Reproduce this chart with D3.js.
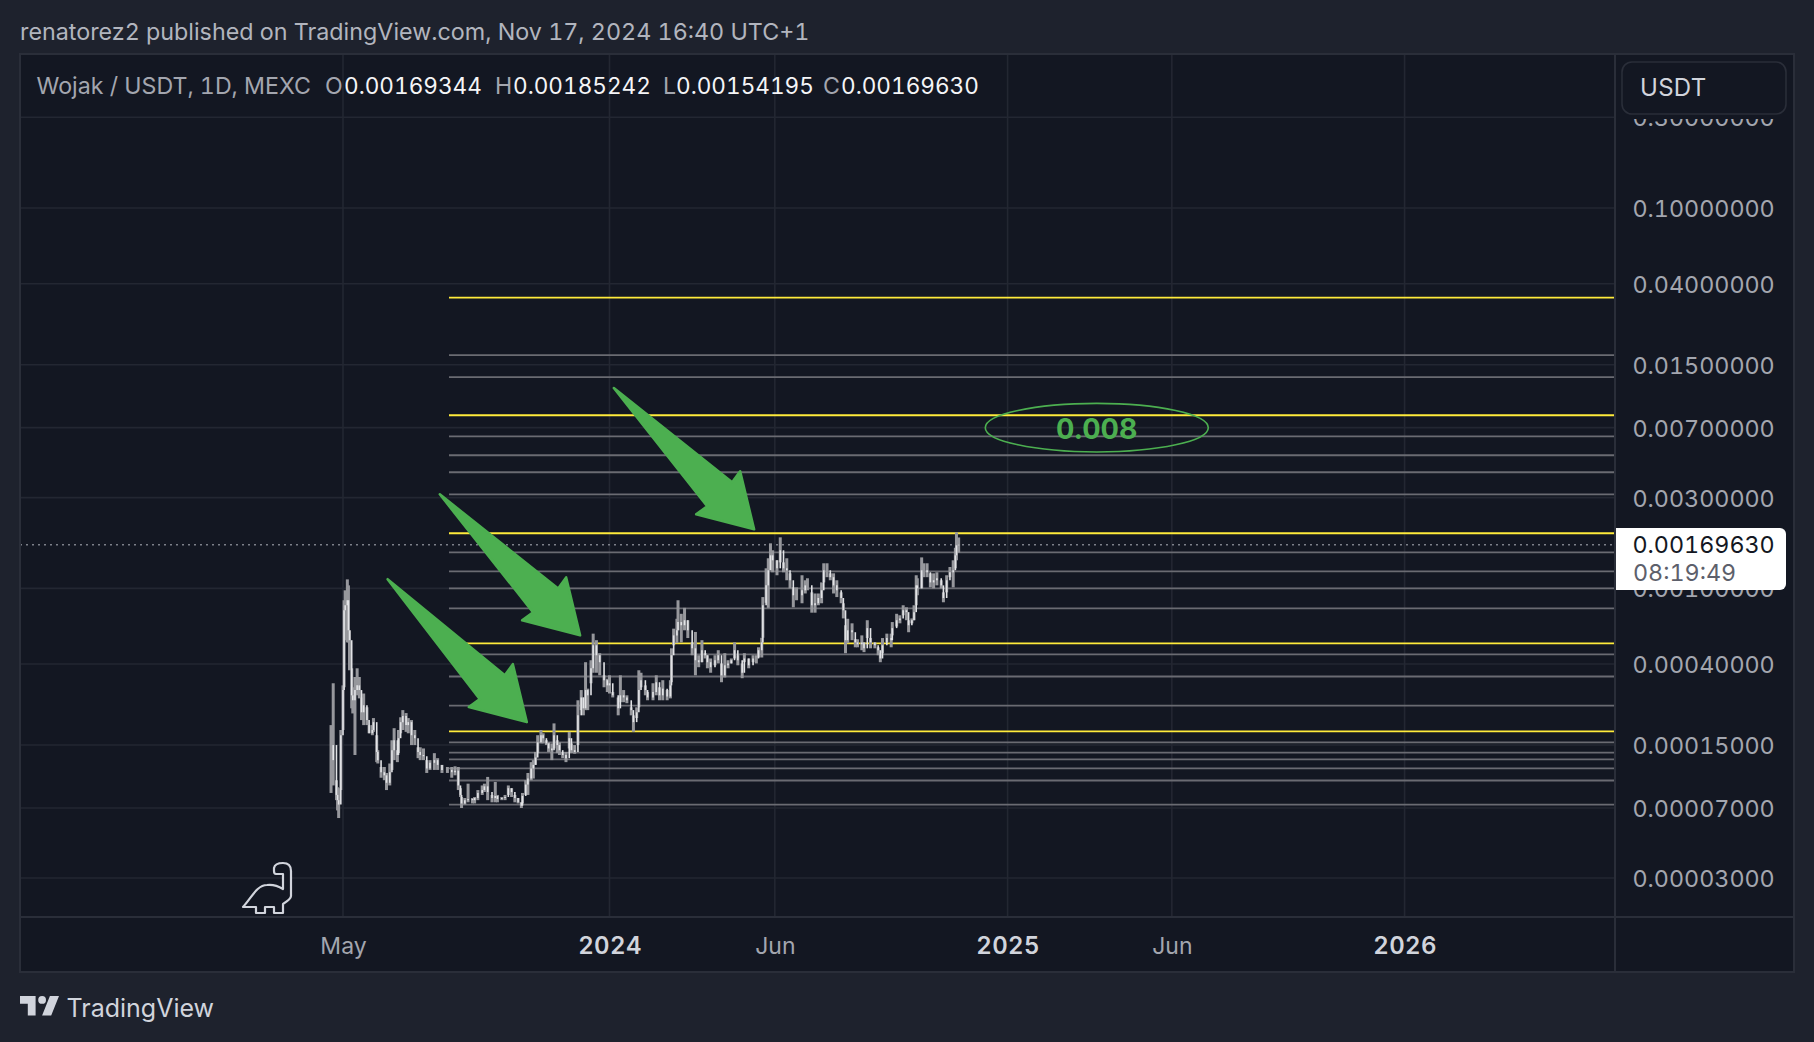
<!DOCTYPE html>
<html><head><meta charset="utf-8">
<script src="https://cdn.jsdelivr.net/npm/d3@7/dist/d3.min.js"></script>
<style>html,body{margin:0;padding:0;background:#1e222d;overflow:hidden}svg{display:block}text{font-family:Inter,"Noto Sans",sans-serif;font-variant-numeric:tabular-nums}</style>
</head><body><svg id="c" width="1814" height="1042"></svg>
<script>
// All prices below are in millionths of a USDT (1000 = 0.001)
const priceTicks = [0.3,0.1,0.04,0.015,0.007,0.003,0.001,0.0004,0.00015,0.00007,0.00003];
const timeTicks = ["2023-05-01","2024-01-01","2024-06-01","2025-01-01","2025-06-01","2026-01-01"];
const timeLabels = ["May","2024","Jun","2025","Jun","2026"];
const yellowLevels = [33800,8140,1950,514,177];
const greyLevels = [16840,12900,6300,5010,4080,3120,1547,1229,1000,785,450,344,242,155,137,126,113,97.7,73];
const barDays = [-11,-9,-6,-5,-4,-2,0,1,2,4,
5,6,8,9,11,13,15,17,19,22,
24,27,28,31,32,35,38,40,43,45,
47,50,51,53,55,58,60,63,66,69,
71,74,77,80,84,87,91,96,100,103,
106,108,109,112,115,119,121,124,128,130,
133,137,140,142,146,149,152,155,158,161,
164,165,168,170,173,175,177,179,182,184,
187,189,192,194,197,199,202,205,208,210,
213,216,219,221,223,225,228,230,233,236,
240,243,245,248,253,255,258,261,265,267,
270,272,274,278,280,285,288,291,294,298,
301,302,304,307,308,311,314,317,321,324,
327,330,333,335,338,342,345,348,351,354,
357,360,363,367,369,373,377,380,382,385,
386,389,391,393,395,399,402,405,408,411,
414,417,422,425,427,431,434,437,440,442,
445,448,451,454,458,460,462,464,468,471,
473,477,479,482,485,489,492,494,496,500,
504,505,509,512,515,518,520,523,525,527,
528,532,534,537,540,543,546,550,552,555,
558,561,563,564,566];
const highs = [191,317,98,90,89,180,309,866,977,1115,
1037,602,380,302,342,380,342,267,280,237,
191,191,208,169,141,115,115,107,120,159,
184,141,180,210,229,221,208,203,180,146,
146,144,125,125,136,128,118,115,115,116,
115,89,80,79,94,79,80,87,92,94,
102,82,96,82,80,82,92,89,82,79,
75,84,98,107,122,125,138,169,180,173,
159,155,153,195,159,155,138,138,176,153,
150,258,292,267,409,297,419,578,534,456,
349,335,349,285,267,349,292,274,237,215,
237,371,360,309,285,317,349,302,329,292,
329,484,614,692,866,735,790,680,520,590,
445,534,456,445,428,445,473,403,456,419,
428,520,445,403,456,428,445,445,490,550,
900,1275,1440,1725,1586,1405,1855,1370,1440,1200,
1012,1012,1172,1103,1130,953,940,940,1075,1355,
1355,1200,1200,1103,953,835,640,692,655,540,
540,566,520,680,548,520,490,456,548,578,
578,665,735,722,815,795,680,695,815,1172,
1130,1455,1355,1355,1200,1200,1215,1103,953,1172,
1295,1405,1635,1971,1852];
const lows = [84,92,77,68,62,87,180,302,534,520,
520,371,234,220,133,274,264,203,191,191,
173,169,176,122,120,101,98,87,92,111,
125,122,136,173,180,176,173,150,150,128,
125,125,107,111,111,111,107,107,101,104,
87,80,70,73,75,74,74,77,82,85,
77,75,75,75,77,77,82,80,75,74,
70,74,82,82,98,100,118,136,153,153,
150,138,125,144,136,133,128,122,144,136,
135,150,229,215,229,229,317,360,360,349,
302,285,280,267,215,252,252,249,215,176,
208,237,302,274,258,258,274,258,258,258,
264,321,502,515,602,520,602,548,445,349,
385,409,428,380,360,394,403,321,340,380,
403,428,394,337,409,380,409,403,433,433,
550,840,790,1245,1215,1172,1370,1215,1103,1000,
795,866,835,940,977,745,745,815,835,1075,
1145,1103,940,900,835,695,456,515,534,490,
490,473,462,548,484,484,445,409,456,520,
490,566,630,655,722,680,588,655,680,815,
920,1000,1145,1145,1012,1000,1037,1000,845,953,
1145,1012,1275,1405,1542];
const closes = [125,150,82,77,73,169,292,767,815,866,
602,534,274,258,292,309,292,223,243,203,
173,180,198,138,125,108,104,95,108,141,
159,133,163,198,213,191,198,169,163,138,
133,131,113,121,125,118,111,111,108,110,
92,82,74,77,78,77,79,84,87,91,
85,79,81,78,79,80,89,85,79,75,
72,81,93,100,113,118,129,155,169,163,
153,144,141,169,150,141,133,128,163,141,
138,215,267,234,292,274,380,502,445,409,
329,309,317,274,234,274,267,258,229,198,
223,292,329,292,267,285,321,274,297,270,
309,445,566,602,665,640,680,602,484,419,
409,473,445,409,385,419,445,349,394,403,
419,473,419,360,428,394,428,428,473,520,
815,1037,1245,1492,1405,1275,1586,1275,1245,1103,
920,920,977,1037,1037,815,835,890,977,1245,
1245,1145,1037,977,890,767,534,602,588,520,
508,520,484,618,520,502,473,428,502,548,
534,618,680,695,767,750,640,680,750,1037,
1000,1245,1245,1215,1075,1103,1130,1037,890,1103,
1215,1245,1492,1684,1696];
const arrowTails = [[41,1118],[89,3122],[249,11300]];
const arrowTips = [[169,198],[218,566],[378,2044]];
const noteText = "0.008";
const noteDay = 693, notePrice = 7000;
const lastPrice = 1696.3;

const W=1814,H=1042,L=20,T=54,R=1794,B=972,PX=1615,AX=917;
const BG="#131722",OUT="#1e222d",GRID="#232732",FRAME="#2a2e39",GREEN="#4caf50";
const svg=d3.select("#c");
const y=d3.scaleLog().domain([0.1,0.00003]).range([208,878]);
const x=d3.scaleUtc().domain([new Date(timeTicks[0]),new Date(timeTicks[5])]).range([343,1404.6]);
const t0=new Date(timeTicks[0]);
const X=d=>x(d3.utcDay.offset(t0,d));
const Y=u=>y(u*1e-6);

svg.append("rect").attr("width",W).attr("height",H).attr("fill",OUT);
svg.append("rect").attr("x",L).attr("y",T).attr("width",R-L).attr("height",B-T).attr("fill",BG);

// grid
svg.append("g").selectAll("line").data(priceTicks).join("line").attr("x1",L).attr("x2",PX).attr("y1",d=>y(d)).attr("y2",d=>y(d)).attr("stroke",GRID).attr("stroke-width",1.6);
svg.append("g").selectAll("line").data(timeTicks).join("line").attr("x1",d=>x(new Date(d))).attr("x2",d=>x(new Date(d))).attr("y1",T).attr("y2",AX).attr("stroke",GRID).attr("stroke-width",1.6);

// levels
svg.append("g").selectAll("line").data(greyLevels).join("line").attr("x1",449).attr("x2",PX).attr("y1",Y).attr("y2",Y).attr("stroke","#6a6b72").attr("stroke-width",1.8);
svg.append("g").selectAll("line").data(yellowLevels).join("line").attr("x1",449).attr("x2",PX).attr("y1",Y).attr("y2",Y).attr("stroke","#ffeb3b").attr("stroke-width",1.9);

// last price dotted
svg.append("line").attr("x1",L).attr("x2",PX).attr("y1",Y(lastPrice)).attr("y2",Y(lastPrice)).attr("stroke","#7d8089").attr("stroke-width",1.6).attr("stroke-dasharray","2 4");

// candles
const bars=barDays.map((d,i)=>({d,h:highs[i],l:lows[i],c:closes[i],o:i?closes[i-1]:closes[0]}));
svg.append("g").selectAll("line").data(bars).join("line")
 .attr("x1",b=>X(b.d)).attr("x2",b=>X(b.d)).attr("y1",b=>Y(b.h)).attr("y2",b=>Y(b.l)).attr("stroke","#96979c").attr("stroke-width",3);
svg.append("g").selectAll("line").data(bars).join("line")
 .attr("x1",b=>X(b.d)).attr("x2",b=>X(b.d)).attr("y1",b=>Y(b.o)).attr("y2",b=>Y(b.c)).attr("stroke","#e2e3e6").attr("stroke-width",1.6);

// arrows
arrowTips.forEach((tip,i)=>{
 const tx=X(tip[0]),ty=Y(tip[1]),ax=X(arrowTails[i][0]),ay=Y(arrowTails[i][1]);
 const pts=[[ax,ay],[tx-22,ty-47],[tx-14,ty-58],[tx,ty],[tx-58,ty-15],[tx-47,ty-23]];
 svg.append("path").attr("d",d3.line()(pts)+"Z").attr("fill",GREEN).attr("stroke",GREEN).attr("stroke-width",2.5).attr("stroke-linejoin","round");
});

// ellipse note
svg.append("ellipse").attr("cx",X(noteDay)).attr("cy",Y(notePrice)).attr("rx",111.5).attr("ry",24.3).attr("fill","none").attr("stroke",GREEN).attr("stroke-width",1.6);
svg.append("text").attr("x",X(noteDay)).attr("y",Y(notePrice)+11).attr("text-anchor","middle").attr("fill",GREEN).attr("font-size",28.5).attr("font-weight",700).text(noteText);

// price axis
svg.append("rect").attr("x",PX).attr("y",T).attr("width",R-PX).attr("height",B-T).attr("fill",BG);
const pa=svg.append("g").attr("transform",`translate(1632.5,1)`).call(d3.axisRight(y).tickValues(priceTicks).tickSize(0).tickPadding(0).tickFormat(d=>d.toFixed(8)));
pa.select(".domain").remove();
pa.selectAll("text").attr("fill","#a3a6af").attr("font-size",23.3).attr("font-family","Inter");

// header strip hides top tick
svg.append("rect").attr("x",PX+1).attr("y",T+1).attr("width",R-PX-2).attr("height",64).attr("fill",BG);
svg.append("rect").attr("x",1622).attr("y",62).attr("width",164).attr("height",52).attr("rx",10).attr("fill",BG).attr("stroke",FRAME).attr("stroke-width",1.6);
svg.append("text").attr("x",1640).attr("y",96).attr("fill","#d1d4dc").attr("font-size",24).attr("letter-spacing",0.3).text("USDT");

// last price box
svg.append("path").attr("d","M1615.5 528H1780a6 6 0 0 1 6 6V584a6 6 0 0 1 -6 6H1615.5Z").attr("fill","#fff");
svg.append("text").attr("x",1632.5).attr("y",553).attr("fill","#131722").attr("font-size",23.3).text((lastPrice*1e-6).toFixed(8));
svg.append("text").attr("x",1633).attr("y",581).attr("fill","#5d606b").attr("font-size",23.3).text("08:19:49");

// frame lines
const fr=svg.append("g").attr("stroke",FRAME).attr("stroke-width",2).attr("fill","none");
fr.append("rect").attr("x",L).attr("y",T).attr("width",R-L).attr("height",B-T);
fr.append("line").attr("x1",PX).attr("x2",PX).attr("y1",T).attr("y2",B);
fr.append("line").attr("x1",L).attr("x2",R).attr("y1",AX).attr("y2",AX);

// time axis
const ta=svg.append("g").attr("transform",`translate(0,${AX})`).call(d3.axisBottom(x).tickValues(timeTicks.map(d=>new Date(d))).tickSize(0).tickPadding(0).tickFormat((d,i)=>timeLabels[i]));
ta.select(".domain").remove();
ta.selectAll("text").attr("y",37).attr("dy",0).attr("font-family","Inter").attr("font-size",(d,i)=>/^\d/.test(timeLabels[i])?24:23)
  .attr("letter-spacing",(d,i)=>/^\d/.test(timeLabels[i])?0.4:0)
  .attr("fill",(d,i)=>/^\d/.test(timeLabels[i])?"#d1d4dc":"#a3a6af").attr("font-weight",(d,i)=>/^\d/.test(timeLabels[i])?600:400);

// header text
svg.append("text").attr("x",20).attr("y",40).attr("fill","#b2b5be").attr("font-size",23.3).text("renatorez2 published on TradingView.com, Nov 17, 2024 16:40 UTC+1");
const lg=svg.append("g").attr("font-size",23.2);
lg.append("text").attr("x",36.5).attr("y",94).attr("fill","#a3a6af").text("Wojak / USDT, 1D, MEXC");
[["O","0.00169344",325,344],["H","0.00185242",495,513],["L","0.00154195",663,676],["C","0.00169630",823,841]].forEach(r=>{
 lg.append("text").attr("x",r[2]).attr("y",94).attr("fill","#a3a6af").text(r[0]);
 lg.append("text").attr("x",r[3]).attr("y",94).attr("fill","#f5f5f7").attr("font-size",22.6).text(r[1]);
});

// dino icon
svg.append("path").attr("d","M243 907C252 897 257 885 267 885C275 884 283 889 283 889V874H276Q274 874 274 871V868Q275 863 283 863Q291 863 291 871V896Q291 899 283 904V913H274V907H265V913H256V907Z").attr("fill",BG).attr("stroke","#d1d4dc").attr("stroke-width",2.2).attr("stroke-linejoin","round");

// logo
svg.append("g").attr("transform","translate(17.4,988.2) scale(1.3)").append("path").attr("d","M14 6H2v6h6v9h6V6Zm12 15h-7l6-15h7l-6 15Zm-7-9a3 3 0 1 0 0-6 3 3 0 0 0 0 6Z").attr("fill","#d1d4dc");
svg.append("text").attr("x",66.5).attr("y",1017).attr("fill","#d1d4dc").attr("font-size",25).text("TradingView");
</script></body></html>
